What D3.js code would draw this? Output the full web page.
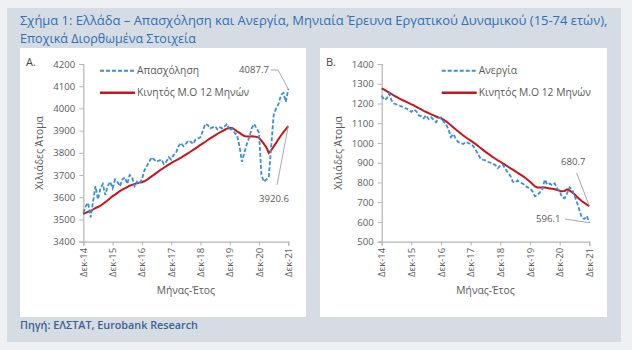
<!DOCTYPE html>
<html><head><meta charset="utf-8">
<script src="https://cdn.jsdelivr.net/npm/d3@7"></script>
<style>
html,body{margin:0;padding:0;background:#eef0f3;}
svg{display:block;font-family:"Open Sans","Noto Sans",sans-serif;}
</style></head>
<body><svg id="c" width="632" height="350"></svg>
<script>
// ---- data (monthly, Dec-14 .. Dec-21) ----
const tickLabels = ["Δεκ-14","Δεκ-15","Δεκ-16","Δεκ-17","Δεκ-18","Δεκ-19","Δεκ-20","Δεκ-21"];
const employment = [3530,3560,3575,3510,3580,3650,3590,3640,3660,3610,3650,3670,
 3640,3680,3670,3650,3680,3690,3660,3700,3690,3650,3670,3660,
 3680,3720,3740,3760,3780,3770,3760,3765,3770,3750,3760,3780,
 3770,3790,3800,3830,3845,3830,3840,3855,3850,3840,3860,3865,
 3870,3900,3930,3925,3910,3915,3920,3905,3915,3910,3920,3930,
 3900,3910,3890,3880,3830,3760,3800,3840,3870,3910,3930,3910,
 3890,3700,3670,3680,3690,3830,3970,4000,4020,4060,4070,4030,4087.7];
const employmentMA = [3525,3530,3535,3538,3545,3552,3556,3562,3570,3578,3587,3596,
 3605,3612,3620,3628,3634,3640,3646,3652,3656,3660,3663,3666,
 3668,3672,3678,3686,3694,3702,3710,3718,3726,3733,3740,3747,
 3754,3760,3766,3772,3778,3785,3792,3799,3806,3813,3820,3828,
 3836,3843,3850,3858,3865,3872,3879,3886,3892,3898,3904,3910,
 3913,3912,3905,3897,3890,3882,3876,3874,3874,3875,3874,3872,
 3868,3855,3840,3825,3800,3812,3828,3845,3862,3878,3893,3907,3920.6];
const unemployment = [1240,1218,1225,1250,1215,1200,1195,1190,1185,1180,1175,1165,
 1158,1170,1160,1140,1135,1125,1140,1120,1130,1118,1105,1125,
 1130,1108,1095,1070,1030,1045,1020,1005,1000,995,1005,1000,
 995,985,965,945,920,915,912,905,900,895,888,872,
 885,890,870,850,835,805,800,810,800,795,785,775,
 770,755,730,735,750,765,815,790,795,785,795,770,
 755,725,720,745,775,765,735,700,660,620,615,630,596.1];
const unemploymentMA = [1277,1270,1263,1255,1248,1240,1233,1226,1220,1214,1208,1202,
 1196,1190,1183,1176,1170,1163,1157,1151,1145,1140,1134,1129,
 1125,1118,1110,1100,1090,1078,1068,1058,1048,1038,1029,1020,
 1012,1003,994,985,975,965,955,946,937,928,920,912,
 905,897,889,881,873,865,857,849,841,833,824,814,
 804,792,780,775,775,775,774,772,770,768,766,762,
 758,755,757,765,760,750,740,728,716,705,697,688,680.7];
const titleLines = ["Σχήμα 1: Ελλάδα – Απασχόληση και Ανεργία, Μηνιαία Έρευνα Εργατικού Δυναμικού (15-74 ετών),","Εποχικά Διορθωμένα Στοιχεία"];
const sourceText = "Πηγή: ΕΛΣΤΑΤ, Eurobank Research";

const BLUE="#3a8fd4", RED="#c8161d", AXIS="#b5b5b5", TXT="#5a5a5a";
const svg = d3.select("#c");

svg.append("rect").attr("x",7).attr("y",8).attr("width",614).attr("height",334).attr("fill","#d6dce3");
function fitText(sel, w){ const n=sel.node(); const L=n.getComputedTextLength(); const fs=parseFloat(sel.attr("font-size")); sel.attr("font-size", fs*w/L); }
fitText(svg.append("text").attr("x",20).attr("y",25).attr("font-size",13).attr("fill","#2f6fb4").text(titleLines[0]), 588);
fitText(svg.append("text").attr("x",20).attr("y",43).attr("font-size",13).attr("fill","#2f6fb4").text(titleLines[1]), 176);
fitText(svg.append("text").attr("x",20).attr("y",329).attr("font-size",11).attr("font-weight",600).attr("fill","#3d5f96").text(sourceText), 178);

function panel(cfg){
  const g = svg.append("g");
  g.append("rect").attr("x",cfg.px).attr("y",48).attr("width",cfg.pw).attr("height",269).attr("fill","#fff");
  const x = d3.scaleLinear().domain([0,84]).range([cfg.x0,cfg.x1]);
  const y = d3.scaleLinear().domain(cfg.yDom).range([241.7,64]);
  const ya = g.append("g").attr("transform",`translate(${cfg.x0},0)`)
    .call(d3.axisLeft(y).tickValues(d3.range(cfg.yDom[0],cfg.yDom[1]+1,100)).tickSize(4).tickPadding(4).tickFormat(d3.format("d")));
  const xa = g.append("g").attr("transform",`translate(0,241.7)`)
    .call(d3.axisBottom(x).tickValues(d3.range(0,85,12)).tickSize(4).tickFormat((d,i)=>tickLabels[i]));
  [ya,xa].forEach(a=>{a.select(".domain").attr("stroke",AXIS).attr("stroke-width",1.2);
    a.selectAll(".tick line").attr("stroke",AXIS);
    a.selectAll("text").attr("fill",TXT).attr("font-size",9.6).attr("font-family","Open Sans, sans-serif");});
  xa.selectAll("text").attr("transform","rotate(-90)").attr("text-anchor","end").attr("x",-6).attr("y",0).attr("dy","0.32em");
  g.append("text").attr("transform",`translate(${cfg.x0-40},153) rotate(-90)`).attr("text-anchor","middle")
    .attr("font-size",10.3).attr("fill",TXT).text("Χιλιάδες Άτομα");
  g.append("text").attr("x",(cfg.x0+cfg.x1)/2).attr("y",294).attr("text-anchor","middle")
    .attr("font-size",10.3).attr("fill",TXT).text("Μήνας-Έτος");
  g.append("text").attr("x",cfg.px+6).attr("y",66).attr("font-size",11).attr("fill","#444").text(cfg.letter);
  const line = d3.line().x((d,i)=>x(i)).y(d=>y(d));
  g.append("path").datum(cfg.ma).attr("d",line).attr("fill","none").attr("stroke",RED).attr("stroke-width",2);
  g.append("path").datum(cfg.data).attr("d",line).attr("fill","none").attr("stroke",BLUE).attr("stroke-width",1.8).attr("stroke-dasharray","4,2");
  const lx = cfg.lx;
  g.append("line").attr("x1",lx).attr("x2",lx+35).attr("y1",70.7).attr("y2",70.7).attr("stroke",BLUE).attr("stroke-width",2).attr("stroke-dasharray","4,2");
  g.append("text").attr("x",lx+37).attr("y",74).attr("font-size",10.3).attr("fill",TXT).text(cfg.name);
  g.append("line").attr("x1",lx).attr("x2",lx+35).attr("y1",92.7).attr("y2",92.7).attr("stroke",RED).attr("stroke-width",2.5);
  g.append("text").attr("x",lx+37).attr("y",96).attr("font-size",10.3).attr("fill",TXT).text("Κινητός Μ.Ο 12 Μηνών");
  cfg.ann.forEach(a=>{
    const v = a.series[84];
    g.append("path").attr("d",`M${a.pts.map(p=>p.join(",")).join("L")}L${x(84)},${y(v)}`).attr("fill","none").attr("stroke","#a8a8a8").attr("stroke-width",1);
    g.append("text").attr("x",a.tx).attr("y",a.ty).attr("font-size",9.6).attr("fill",TXT).text(d3.format(".1f")(v));
  });
}
panel({px:20,pw:286,x0:83.3,x1:288.3,yDom:[3400,4200],data:employment,ma:employmentMA,letter:"A.",lx:100,name:"Απασχόληση",
  ann:[{series:employment,pts:[[271,70],[278,70]],tx:239,ty:73},{series:employmentMA,pts:[[277,185]],tx:259,ty:202}]});
panel({px:320,pw:287,x0:381.7,x1:589.3,yDom:[500,1400],data:unemployment,ma:unemploymentMA,letter:"B.",lx:441.7,name:"Ανεργία",
  ann:[{series:unemploymentMA,pts:[[576.7,173]],tx:561,ty:165},{series:unemployment,pts:[[565,219]],tx:536,ty:222}]});
</script></body></html>
